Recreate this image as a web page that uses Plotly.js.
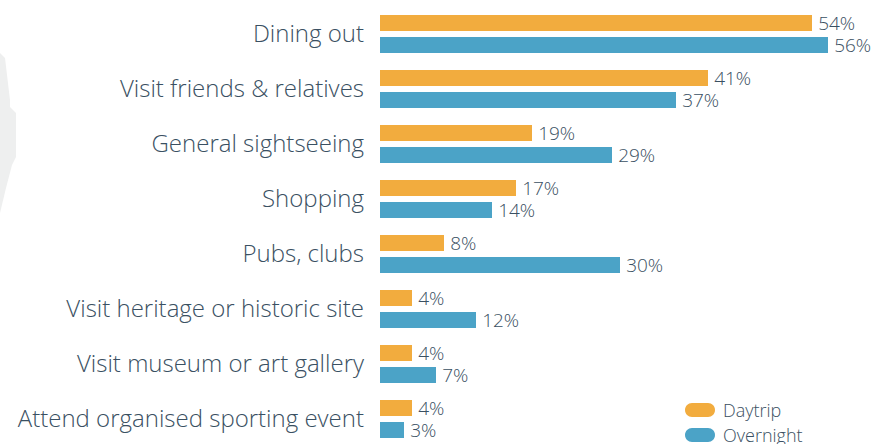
<!DOCTYPE html>
<html>
<head>
<meta charset="utf-8">
<script src="https://cdn.plot.ly/plotly-3.0.1.min.js"></script>
<style>
html,body{margin:0;padding:0;background:#fff;}
#chart{width:894px;height:444px;}
</style>
</head>
<body>
<div id="chart"></div>
<script>
var categories = ["Dining out", "Visit friends & relatives", "General sightseeing", "Shopping", "Pubs, clubs", "Visit heritage or historic site", "Visit museum or art gallery", "Attend organised sporting event"];
var daytrip = [54, 41, 19, 17, 8, 4, 4, 4];
var overnight = [56, 37, 29, 14, 30, 12, 7, 3];
var seriesNames = ["Daytrip", "Overnight"];
var seriesColors = ["#F2AC3E", "#4BA3C7"];

var W = 894, H = 444, L = 380, R = 14;
var textColor = "#3A5062";
var font = "'Open Sans', Roboto, 'DejaVu Sans', sans-serif";

function px(x){ return (x - L) / (W - L - R); }
function py(y){ return 1 - y / H; }
function pill(x0, y0, x1, y1){
  var r = (y1 - y0) / 2, k = 0.5523 * r;
  return "M" + px(x0 + r) + "," + py(y0) +
    " L" + px(x1 - r) + "," + py(y0) +
    " C" + px(x1 - r + k) + "," + py(y0) + " " + px(x1) + "," + py(y0 + r - k) + " " + px(x1) + "," + py(y0 + r) +
    " C" + px(x1) + "," + py(y0 + r + k) + " " + px(x1 - r + k) + "," + py(y1) + " " + px(x1 - r) + "," + py(y1) +
    " L" + px(x0 + r) + "," + py(y1) +
    " C" + px(x0 + r - k) + "," + py(y1) + " " + px(x0) + "," + py(y0 + r + k) + " " + px(x0) + "," + py(y0 + r) +
    " C" + px(x0) + "," + py(y0 + r - k) + " " + px(x0 + r - k) + "," + py(y0) + " " + px(x0 + r) + "," + py(y0) + " Z";
}

var traces = [daytrip, overnight].map(function(vals, i){
  return {
    type: "bar", orientation: "h", name: seriesNames[i],
    y: categories, x: vals,
    marker: {color: seriesColors[i]},
    text: vals.map(function(v){ return "\u2009" + v + "%"; }),
    textposition: "outside", cliponaxis: false, constraintext: "none",
    textfont: {family: font, size: 19, color: textColor, weight: 300},
    hoverinfo: "skip"
  };
});

var blob = [[0,53],[5,58],[7,75],[10,100],[10,107],[16,113],[16,157],[12,165],[6,188],[0,213]];
var blobPath = blob.map(function(p, i){ return (i ? "L" : "M") + px(p[0]) + "," + py(p[1]); }).join(" ") + " Z";

var shapes = [
  {type: "path", xref: "paper", yref: "paper", path: blobPath, fillcolor: "#EEEFEF", line: {width: 0}, layer: "below"},
  {type: "path", xref: "paper", yref: "paper", path: pill(685, 403, 715, 417), fillcolor: seriesColors[0], line: {width: 0}},
  {type: "path", xref: "paper", yref: "paper", path: pill(685, 428, 715, 442), fillcolor: seriesColors[1], line: {width: 0}}
];
var annotations = seriesNames.map(function(n, i){
  return {xref: "paper", yref: "paper", x: px(721), y: py(410 + i * 25), xanchor: "left", yanchor: "middle",
    text: n, showarrow: false, font: {family: font, size: 18, color: textColor, weight: 300}};
});

var layout = {
  width: W, height: H,
  margin: {l: L, r: R, t: 0, b: 0, pad: 0},
  paper_bgcolor: "#fff", plot_bgcolor: "rgba(0,0,0,0)",
  barmode: "group", bargap: 0.2, bargroupgap: 0.27,
  showlegend: false,
  xaxis: {range: [0, (W - L - R) / 8], visible: false, fixedrange: true},
  yaxis: {type: "category", range: [(H - 34) / 55, -34 / 55], showgrid: false, zeroline: false, showline: false,
    ticks: "", ticklabelstandoff: 15, tickfont: {family: font, size: 24, color: textColor, weight: 300}, fixedrange: true},
  shapes: shapes, annotations: annotations,
  hovermode: false
};

Plotly.newPlot("chart", traces, layout, {displayModeBar: false, staticPlot: true});
</script>
</body>
</html>
